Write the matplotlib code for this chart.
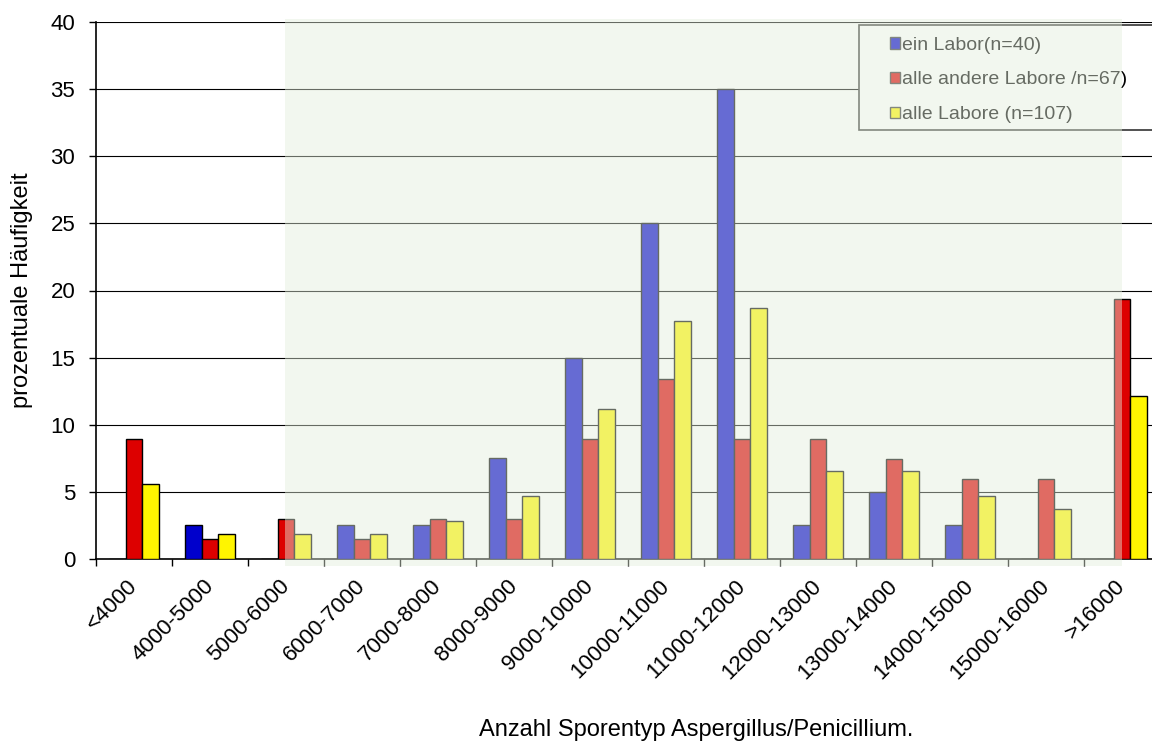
import matplotlib.pyplot as plt
import numpy as np
from matplotlib.patches import Rectangle, Patch
from matplotlib.transforms import ScaledTranslation

plt.rcParams['font.family'] = ['Liberation Sans', 'DejaVu Sans']

categories = ['<4000', '4000-5000', '5000-6000', '6000-7000', '7000-8000',
              '8000-9000', '9000-10000', '10000-11000', '11000-12000',
              '12000-13000', '13000-14000', '14000-15000', '15000-16000',
              '>16000']
ein_labor = [0, 2.5, 0, 2.5, 2.5, 7.5, 15, 25, 35, 2.5, 5, 2.5, 0, 0]
andere_labore = [8.96, 1.49, 2.99, 1.49, 2.99, 2.99, 8.96, 13.43, 8.96,
                 8.96, 7.46, 5.97, 5.97, 19.4]
alle_labore = [5.6, 1.87, 1.87, 1.87, 2.8, 4.67, 11.21, 17.76, 18.69,
               6.54, 6.54, 4.67, 3.74, 12.15]
series_labels = ['ein Labor(n=40)', 'alle andere Labore /n=67)',
                 'alle Labore (n=107)']
series_colors = ['#0000cc', '#dd0000', '#fff500']

fig = plt.figure(figsize=(11.52, 7.42), dpi=100)
ax = fig.add_axes([96 / 1152, 1 - 559 / 742, 1064 / 1152, 537 / 742])

x = np.arange(len(categories))
w = 0.223
for i, (vals, col) in enumerate(zip([ein_labor, andere_labore, alle_labore],
                                    series_colors)):
    ax.bar(x + (i - 1) * w, vals, width=w, color=col, edgecolor='black',
           linewidth=1.0, zorder=3)

ax.set_xlim(-0.5, len(categories) - 0.5)
ax.set_ylim(0, 40)
ax.set_yticks(range(0, 41, 5))
ax.yaxis.grid(True, color='black', linewidth=0.8, zorder=0)
ax.set_axisbelow(True)
for s in ['top', 'right']:
    ax.spines[s].set_visible(False)
ax.spines['left'].set_linewidth(1.2)
ax.spines['bottom'].set_linewidth(1.2)

# boundary ticks between categories, labels at the centres
ax.set_xticks(np.arange(-0.5, len(categories), 1.0))
ax.set_xticklabels([])
ax.tick_params(axis='x', which='major', length=5, width=1, direction='out')
ax.set_xticks(x, minor=True)
ax.set_xticklabels(categories, minor=True, rotation=45, ha='right',
                   va='top', rotation_mode='anchor', fontsize=16)
ax.tick_params(axis='x', which='minor', length=0, pad=12)
ax.tick_params(axis='y', length=5, width=1, labelsize=16, pad=10)
shift = ScaledTranslation(-7 / 100, 0, fig.dpi_scale_trans)
for lab in ax.get_xticklabels(minor=True):
    lab.set_transform(lab.get_transform() + shift)

fig.text(22 / 1152, 1 - 290 / 742, 'prozentuale Häufigkeit', fontsize=17,
         rotation=90, ha='center', va='center')
fig.text(696 / 1152, 1 - 730 / 742, 'Anzahl Sporentyp Aspergillus/Penicillium.',
         fontsize=17, ha='center', va='center')

# legend box running off the right edge
fig.add_artist(Rectangle((859 / 1152, 1 - 130 / 742), 400 / 1152, 105 / 742,
                         transform=fig.transFigure, facecolor='white',
                         edgecolor='#333333', linewidth=1.2, zorder=5))
handles = [Patch(facecolor=c, edgecolor='#333333', linewidth=1.0)
           for c in series_colors]
leg = fig.legend(handles, series_labels, loc='upper left',
                 bbox_to_anchor=(874 / 1152, 1 - 21 / 742), frameon=False,
                 fontsize=14, handlelength=0.55, handleheight=0.55,
                 handletextpad=0.1, labelspacing=0.92, borderpad=0.3)
leg.set_zorder(6)

# translucent green panel laid over the middle of the chart
fig.add_artist(Rectangle((285 / 1152, 1 - 566 / 742), 837 / 1152, 547 / 742,
                         transform=fig.transFigure, facecolor='#e4efdc',
                         edgecolor='none', alpha=0.45, zorder=10))

fig.savefig('out.png', dpi=100)
